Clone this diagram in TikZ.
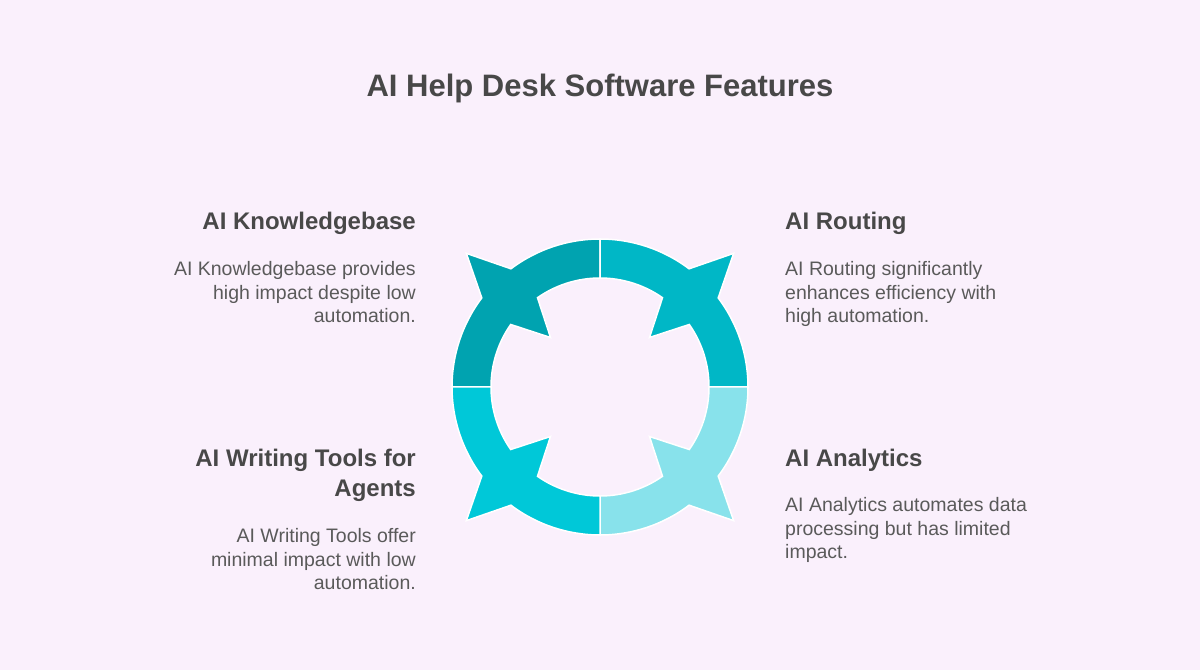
\documentclass[tikz,border=0pt]{standalone}
\usepackage{fontspec}
\setmainfont{Liberation Sans}
\usepackage{tikz}
\usetikzlibrary{positioning}

\definecolor{bgpink}{RGB}{250,240,252}
\definecolor{tealA}{RGB}{0,163,176}
\definecolor{tealB}{RGB}{0,183,198}
\definecolor{tealC}{RGB}{0,200,216}
\definecolor{tealD}{RGB}{136,226,235}
\definecolor{headgray}{RGB}{72,72,72}
\definecolor{bodygray}{RGB}{90,90,90}

\begin{document}
\begin{tikzpicture}[x=1pt, y=1pt]


\tikzstyle{title_style} = [inner sep=0pt, text=headgray, font=\fontsize{31}{36}\selectfont\bfseries]

\tikzstyle{head_style} = [inner sep=0pt, text=headgray, font=\fontsize{24}{30}\selectfont\bfseries]

\tikzstyle{body_style} = [inner sep=0pt, text=bodygray, font=\fontsize{19.5}{23.5}\selectfont]

\tikzstyle{piece_style} = [draw=white, line width=1.5, line join=miter]


\fill[bgpink] (0,0) rectangle (1200,670);
\useasboundingbox (0,0) rectangle (1200,670);

\node[title_style, anchor=base] (title) at (600, 573) {AI Help Desk Software Features};

\node[head_style, anchor=base east] (h1) at (416, 440) {AI Knowledgebase};
\node[head_style, anchor=base west] (h2) at (785, 440) {AI Routing};
\node[head_style, anchor=base east, align=right] (h3) at (416, 173.3) {AI Writing Tools for\\Agents};
\node[head_style, anchor=base west] (h4) at (785, 203.3) {AI Analytics};

\node[body_style, anchor=base east, align=right] (d1) at (416, 347) {AI Knowledgebase provides\\high impact despite low\\automation.};
\node[body_style, anchor=base west, align=left] (d2) at (785, 347) {AI Routing significantly\\enhances efficiency with\\high automation.};
\node[body_style, anchor=base east, align=right] (d3) at (416, 80.5) {AI Writing Tools offer\\minimal impact with low\\automation.};
\node[body_style, anchor=base west, align=left] (d4) at (785, 111) {AI Analytics automates data\\processing but has limited\\impact.};


% ring of four arrow pieces
\begin{scope}[shift={(600,283)}]
\filldraw[piece_style, fill=tealA] (180:148) arc[start angle=180, end angle=143, radius=148] -- (135:189) -- (127:148)
  arc[start angle=127, end angle=90, radius=148] -- (90:109) arc[start angle=90, end angle=125, radius=109]
  -- (135:70) -- (145:109) arc[start angle=145, end angle=180, radius=109] -- cycle;
\filldraw[piece_style, fill=tealB] (90:148) arc[start angle=90, end angle=53, radius=148] -- (45:189) -- (37:148)
  arc[start angle=37, end angle=0, radius=148] -- (0:109) arc[start angle=0, end angle=35, radius=109]
  -- (45:70) -- (55:109) arc[start angle=55, end angle=90, radius=109] -- cycle;
\filldraw[piece_style, fill=tealD] (0:148) arc[start angle=0, end angle=-37, radius=148] -- (-45:189) -- (-53:148)
  arc[start angle=-53, end angle=-90, radius=148] -- (-90:109) arc[start angle=-90, end angle=-55, radius=109]
  -- (-45:70) -- (-35:109) arc[start angle=-35, end angle=0, radius=109] -- cycle;
\filldraw[piece_style, fill=tealC] (-90:148) arc[start angle=-90, end angle=-127, radius=148] -- (-135:189) -- (-143:148)
  arc[start angle=-143, end angle=-180, radius=148] -- (-180:109) arc[start angle=-180, end angle=-145, radius=109]
  -- (-135:70) -- (-125:109) arc[start angle=-125, end angle=-90, radius=109] -- cycle;
\end{scope}


\end{tikzpicture}
\end{document}
